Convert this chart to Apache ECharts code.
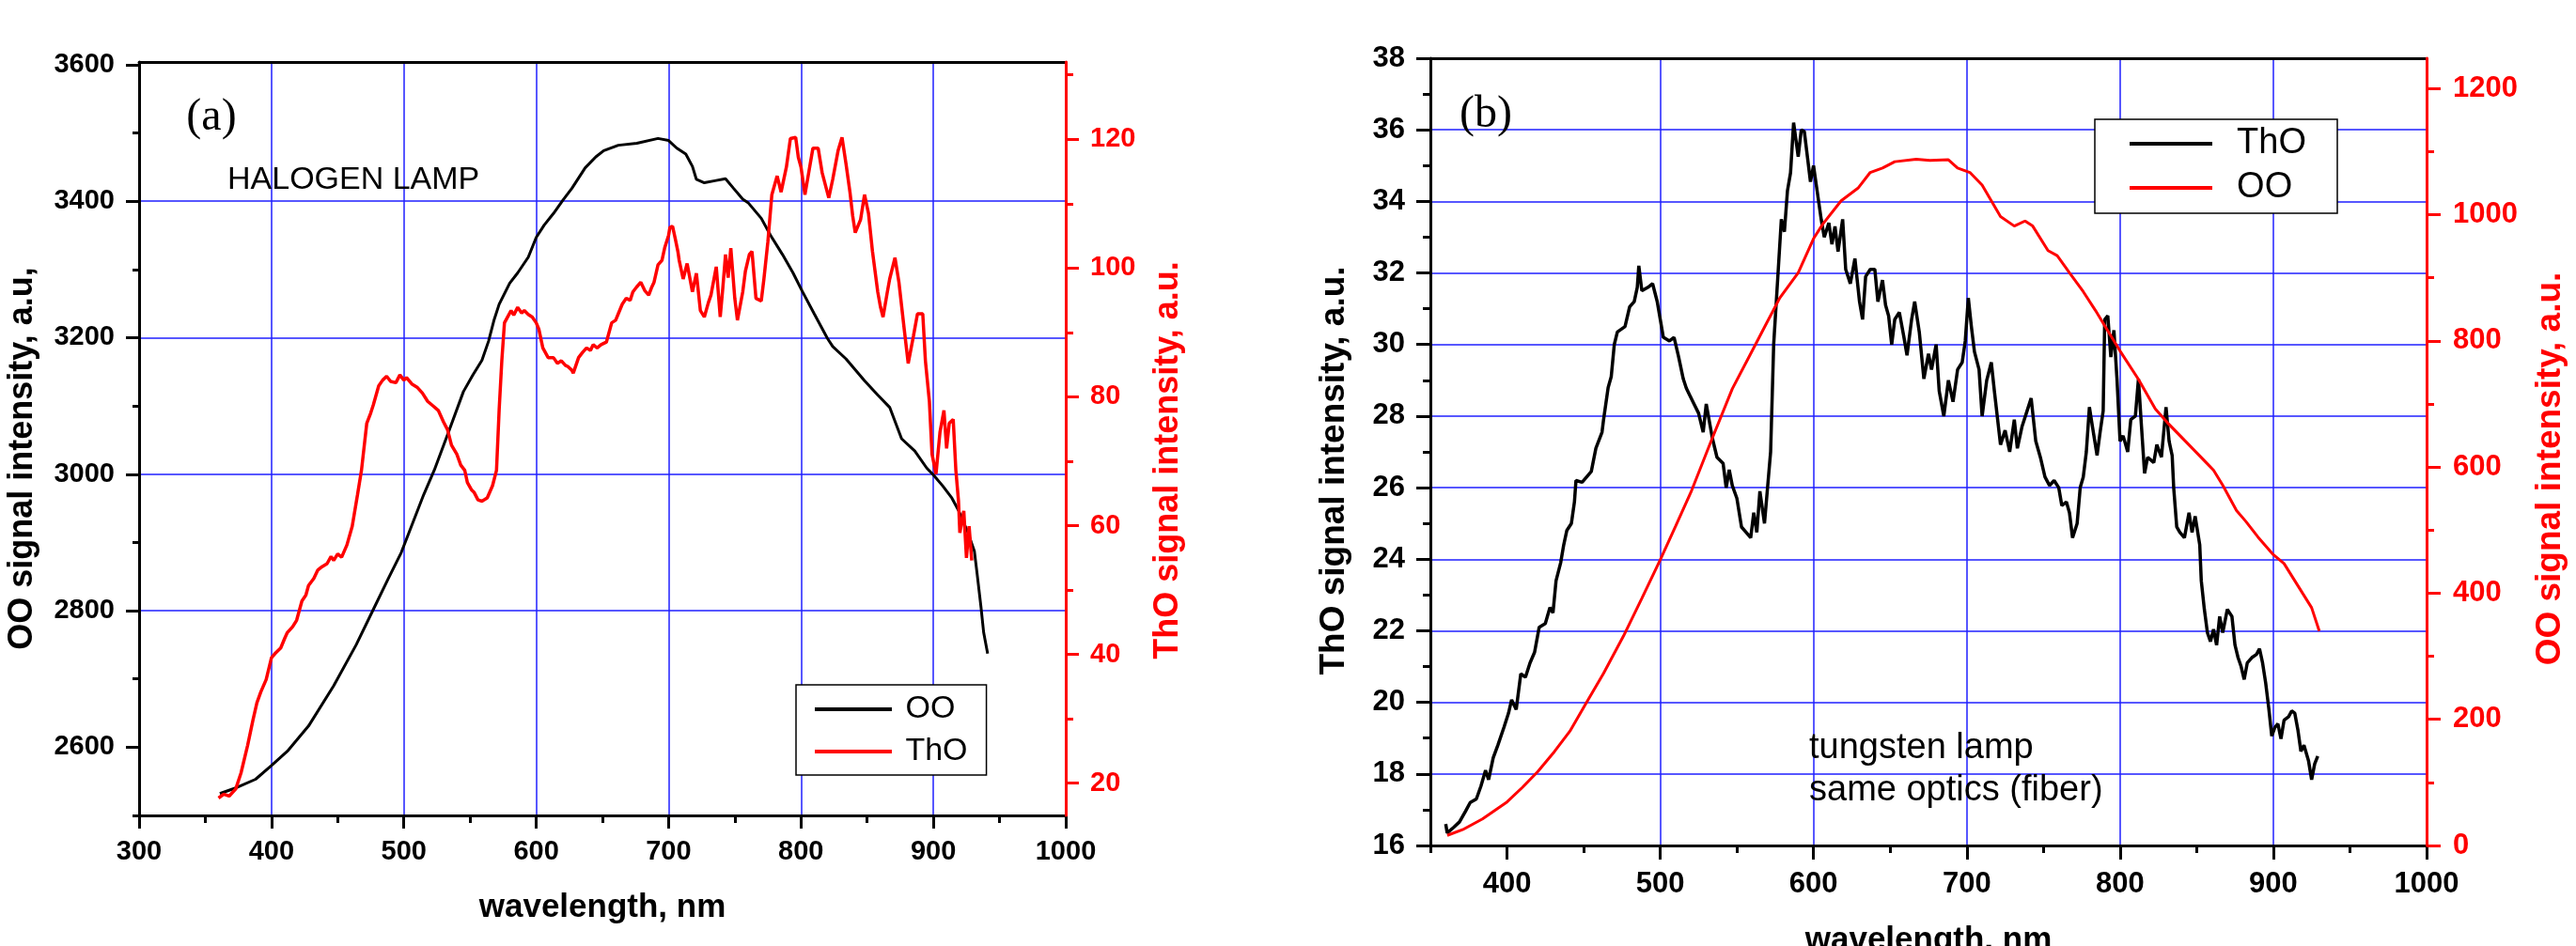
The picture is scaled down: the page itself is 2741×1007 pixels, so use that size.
<!DOCTYPE html>
<html>
<head>
<meta charset="utf-8">
<title>OO / ThO signal vs wavelength</title>
<script src="https://cdn.jsdelivr.net/npm/echarts@6.0.0/dist/echarts.min.js"></script>
<style>
  html, body { margin: 0; padding: 0; background: #fff; }
  #main { width: 2741px; height: 1007px; }
</style>
</head>
<body>
<div id="main"></div>
<script>
// ---- data: [wavelength nm, signal] ----
// panel (a), halogen lamp
var ooA = [[361,2532],[374,2541],[388,2553],[400,2573],[412,2594],[428,2631],[447,2690],[464,2750],[476,2798],[488,2846],
  [498,2885],[504,2915],[515,2970],[523,3006],[534,3063],[545,3121],[552,3145],[559,3167],[564,3195],[568,3225],
  [572,3249],[580,3280],[586,3295],[594,3318],[600,3347],[606,3365],[613,3382],[620,3401],[627,3419],[637,3449],
  [645,3465],[651,3474],[662,3482],[676,3485],[692,3492],[700,3489],[706,3478],[713,3469],[718,3451],[721,3432],
  [727,3427],[735,3430],[743,3433],[749,3419],[756,3403],[760,3398],[770,3375],[777,3350],[786,3322],[794,3295],
  [801,3268],[810,3235],[820,3199],[824,3187],[834,3169],[848,3137],[858,3116],[867,3098],[876,3052],[886,3034],
  [895,3009],[900,2999],[907,2983],[914,2965],[919,2947],[926,2915],[931,2887],[933,2855],[936,2805],[938,2768],[941,2737]];

var thoA = [[360,17.7],[364,18.3],[368,18.0],[373,19.1],[377,21.6],[382,25.9],[386,29.8],[389,32.5],[392,34.2],[396,36.1],
  [400,39.5],[403,40.2],[407,41.0],[410,42.5],[412,43.4],[416,44.3],[419,45.3],[423,48.3],[426,49.2],[428,50.7],
  [432,51.8],[435,53.1],[438,53.6],[442,54.1],[445,55.2],[447,54.6],[450,55.6],[453,55.1],[457,57.0],[461,59.9],
  [465,64.8],[468,68.6],[472,75.9],[475,77.5],[477,78.8],[481,81.7],[484,82.6],[487,83.2],[490,82.4],[494,82.2],
  [497,83.4],[500,82.6],[502,83.0],[506,82.0],[510,81.5],[514,80.6],[518,79.3],[522,78.6],[526,77.9],[530,76.1],
  [533,74.9],[536,72.5],[540,71.1],[543,69.4],[546,68.6],[548,66.7],[551,65.6],[553,65.2],[556,64.0],[559,63.8],
  [563,64.3],[567,66.2],[570,68.6],[572,78.0],[574,85.6],[576,91.5],[581,93.4],[583,92.7],[586,93.9],[589,93.0],
  [591,93.4],[594,92.8],[597,92.4],[600,91.5],[602,90.5],[605,87.6],[609,86.1],[613,86.1],[616,85.2],[619,85.6],
  [622,84.9],[624,84.7],[627,84.1],[628,83.7],[632,86.1],[635,86.9],[638,87.6],[641,87.2],[643,88.1],[646,87.6],
  [649,88.1],[653,88.5],[657,91.5],[660,91.9],[662,92.9],[665,94.4],[668,95.3],[671,95.0],[673,96.3],[676,97.1],
  [679,97.8],[682,96.5],[685,95.8],[687,96.9],[689,97.8],[692,100.5],[695,101.2],[697,103.1],[700,105.1],[701,106.3],
  [703,106.5],[705,104.6],[707,102.6],[708,101.2],[711,98.3],[714,100.7],[718,96.3],[721,99.2],[724,93.4],[727,92.4],
  [730,94.6],[732,95.8],[736,100.2],[739,92.4],[741,97.0],[743,102.1],[745,98.5],[747,103.1],[750,95.3],[752,91.9],
  [756,96.3],[758,99.5],[761,102.1],[763,102.6],[766,95.3],[770,94.9],[772,98.3],[775,104.1],[778,111.4],[782,114.3],
  [785,111.8],[789,115.7],[792,120.1],[796,120.3],[798,117.2],[800,115.7],[803,111.4],[805,113.8],[809,118.6],[813,118.6],
  [816,114.8],[821,110.9],[824,113.8],[828,118.2],[831,120.3],[834,116.2],[837,111.8],[839,108.2],[841,105.5],[845,107.5],
  [848,111.4],[851,108.5],[854,102.6],[858,96.3],[860,94.0],[862,92.4],[865,96.0],[867,98.3],[871,101.6],[874,97.8],
  [878,90.5],[881,85.2],[885,89.5],[888,92.9],[892,92.9],[894,85.6],[897,79.3],[899,71.1],[902,68.0],[905,74.5],
  [908,77.9],[910,72.0],[912,75.9],[915,76.5],[917,68.6],[919,63.8],[920,58.9],[923,62.3],[925,55.0],[927,59.9],[929,54.6]];

// panel (b), tungsten lamp
var thoB = [[360,16.6],[361,16.35],[365,16.5],[369,16.66],[373,16.96],[376,17.2],[380,17.3],[383,17.66],[386,18.1],[388,17.84],
  [391,18.45],[394,18.8],[398,19.3],[401,19.7],[403,20.07],[406,19.8],[409,20.8],[412,20.7],[415,21.1],[418,21.4],
  [421,22.1],[425,22.2],[428,22.65],[430,22.5],[432,23.4],[435,23.9],[437,24.4],[439,24.8],[442,25.0],[444,25.6],
  [445,26.2],[449,26.15],[455,26.45],[458,27.1],[462,27.55],[463,27.9],[466,28.8],[468,29.1],[470,30.0],[472,30.35],
  [477,30.5],[480,31.05],[483,31.2],[485,31.6],[486,32.2],[488,31.5],[492,31.6],[495,31.7],[498,31.2],[500,30.7],
  [502,30.2],[506,30.1],[509,30.2],[512,29.65],[515,29.04],[517,28.78],[519,28.6],[522,28.34],[525,28.08],[528,27.55],
  [530,28.34],[534,27.38],[537,26.85],[541,26.68],[543,26.0],[545,26.5],[547,26.06],[550,25.7],[553,24.9],[556,24.75],
  [559,24.6],[561,25.3],[563,24.75],[565,25.9],[568,25.0],[570,26.0],[572,27.0],[574,30.0],[577,32.1],[579,33.5],
  [581,33.15],[583,34.3],[585,34.8],[587,36.2],[590,35.25],[592,36.0],[594,35.95],[596,35.25],[598,34.55],[600,35.0],
  [602,34.4],[605,33.5],[607,33.0],[610,33.4],[612,32.8],[614,33.3],[616,32.6],[619,33.5],[621,32.1],[624,31.7],
  [627,32.4],[630,31.2],[632,30.7],[634,31.9],[637,32.1],[640,32.1],[642,31.2],[645,31.8],[647,31.1],[649,30.8],
  [651,30.0],[653,30.7],[656,30.9],[659,30.2],[661,29.7],[664,30.7],[666,31.2],[669,30.35],[672,29.04],[675,29.74],
  [677,29.3],[680,30.0],[682,28.7],[685,28.0],[688,29.0],[691,28.4],[694,29.3],[697,29.5],[699,30.1],[701,31.3],
  [703,30.5],[705,29.8],[708,29.3],[710,28.0],[713,29.0],[716,29.5],[718,28.7],[722,27.2],[725,27.6],[728,27.0],
  [731,27.9],[733,27.1],[736,27.7],[739,28.1],[742,28.5],[745,27.3],[748,26.85],[751,26.3],[754,26.06],[757,26.2],
  [760,26.0],[762,25.5],[765,25.6],[767,25.3],[769,24.6],[772,25.0],[774,26.0],[776,26.3],[778,27.0],[780,28.25],
  [782,27.7],[785,26.9],[787,27.55],[789,28.15],[790,30.7],[792,30.8],[794,29.65],[796,30.4],[798,29.04],[800,27.3],
  [802,27.45],[805,27.0],[807,27.9],[810,28.0],[812,29.04],[814,27.7],[816,26.4],[818,26.85],[822,26.7],[824,27.2],
  [827,26.85],[830,28.25],[832,27.3],[834,26.9],[835,26.0],[837,24.9],[839,24.75],[842,24.6],[845,25.3],[847,24.75],
  [849,25.2],[852,24.4],[853,23.4],[855,22.6],[857,21.95],[859,21.7],[861,22.04],[863,21.6],[865,22.4],[867,21.95],
  [870,22.6],[873,22.4],[875,21.6],[877,21.25],[879,21.0],[881,20.64],[883,21.1],[886,21.25],[889,21.34],[891,21.5],
  [893,21.1],[895,20.55],[897,19.85],[899,19.06],[901,19.3],[903,19.4],[905,18.98],[907,19.5],[910,19.6],[912,19.76],
  [914,19.7],[916,19.24],[918,18.63],[920,18.8],[923,18.36],[925,17.84],[927,18.28],[929,18.5]];

var ooB = [[361,16],[371,25],[384,42],[400,69],[410,92],[420,117],[431,149],[441,181],[451,223],[463,273],
  [476,332],[488,392],[500,453],[510,506],[520,560],[533,640],[547,724],[561,789],[570,831],[578,868],
  [590,908],[600,962],[606,985],[618,1022],[629,1042],[637,1067],[645,1074],[653,1084],[667,1088],[676,1086],
  [688,1087],[694,1074],[702,1067],[710,1047],[716,1022],[722,997],[731,982],[738,990],[743,982],[753,943],
  [759,935],[767,908],[776,878],[784,848],[790,824],[800,784],[812,739],[823,692],[831,670],[841,645],
  [855,610],[861,595],[867,571],[876,531],[882,514],[890,489],[900,461],[907,447],[916,412],[925,377],[930,340]];

// tick label positions
var ooTicksA = [2600, 2800, 3000, 3200, 3400, 3600];
var ooMinorA = [2500, 2700, 2900, 3100, 3300, 3500];
var thoTicksA = [20, 40, 60, 80, 100, 120];
var thoMinorA = [30, 50, 70, 90, 110, 130];
var xTicksB = [400, 500, 600, 700, 800, 900, 1000];
var xMinorB = [350, 450, 550, 650, 750, 850, 950];
var ooTicksB = [0, 200, 400, 600, 800, 1000, 1200];
var ooMinorB = [100, 300, 500, 700, 900, 1100];

var FONT = '"Liberation Sans", Arial, Helvetica, sans-serif';
var SERIF = '"Liberation Serif", "Times New Roman", serif';
var BLACK = '#000000', RED = '#ff0000', BLUE = '#1f1fff';

function axLine(c) { return {show: true, onZero: false, lineStyle: {color: c, width: 3}}; }
function axTick(c, len, vals) {
  var t = {show: true, inside: false, length: len, lineStyle: {color: c, width: 3}};
  if (vals) t.customValues = vals;
  return t;
}
function axLabel(c, size, margin, vals) {
  var l = {show: true, color: c, fontSize: size, fontWeight: 'bold', fontFamily: FONT, margin: margin,
           showMinLabel: true, showMaxLabel: true,
           formatter: function (v) { return String(v); }};
  if (vals) l.customValues = vals;
  return l;
}
var off = {show: false};
var grid = {show: true, showMinLine: false, showMaxLine: false, lineStyle: {color: BLUE, width: 1.5}};

function text(x, y, str, size, opts) {
  opts = opts || {};
  return {
    type: 'text', x: x, y: y, rotation: opts.rot || 0, z: 10,
    style: {
      text: str, fontSize: size, fontWeight: opts.weight || 'normal', fontFamily: opts.family || FONT,
      fill: opts.color || BLACK,
      align: opts.align || 'center', textAlign: opts.align || 'center',
      verticalAlign: 'middle', textVerticalAlign: 'middle'
    }
  };
}

var chart = echarts.init(document.getElementById('main'));

var option = {
  animation: false,
  backgroundColor: '#ffffff',
  grid: [
    {left: 148, top: 66, width: 986, height: 802, containLabel: false, outerBoundsMode: 'none'},
    {left: 1522, top: 62, width: 1060, height: 838, containLabel: false, outerBoundsMode: 'none'}
  ],
  xAxis: [
    // (a) bottom
    {gridIndex: 0, type: 'value', position: 'bottom', min: 300, max: 1000, interval: 100,
     axisLine: axLine(BLACK), axisTick: axTick(BLACK, 14),
     minorTick: {show: true, splitNumber: 2, length: 8, lineStyle: {color: BLACK, width: 3}},
     axisLabel: axLabel(BLACK, 29, 24), splitLine: grid},
    // (a) top frame
    {gridIndex: 0, type: 'value', position: 'top', min: 300, max: 1000,
     axisLine: axLine(BLACK), axisTick: off, axisLabel: off, splitLine: off},
    // (b) bottom
    {gridIndex: 1, type: 'value', position: 'bottom', min: 350, max: 1000,
     axisLine: axLine(BLACK), axisTick: axTick(BLACK, 15, xTicksB),
     axisLabel: axLabel(BLACK, 31, 26, xTicksB), splitLine: grid},
    // (b) bottom minor ticks
    {gridIndex: 1, type: 'value', position: 'bottom', min: 350, max: 1000,
     axisLine: off, axisTick: axTick(BLACK, 8, xMinorB), axisLabel: off, splitLine: off},
    // (b) top frame
    {gridIndex: 1, type: 'value', position: 'top', min: 350, max: 1000,
     axisLine: axLine(BLACK), axisTick: off, axisLabel: off, splitLine: off}
  ],
  yAxis: [
    // (a) left OO
    {gridIndex: 0, type: 'value', position: 'left', min: 2500, max: 3604,
     axisLine: axLine(BLACK), axisTick: axTick(BLACK, 14, ooTicksA),
     axisLabel: axLabel(BLACK, 29, 26, ooTicksA), splitLine: grid},
    {gridIndex: 0, type: 'value', position: 'left', min: 2500, max: 3604,
     axisLine: off, axisTick: axTick(BLACK, 7, ooMinorA), axisLabel: off, splitLine: off},
    // (a) right ThO
    {gridIndex: 0, type: 'value', position: 'right', min: 15, max: 132, z: 3,
     axisLine: axLine(RED), axisTick: axTick(RED, 14, thoTicksA),
     axisLabel: axLabel(RED, 29, 26, thoTicksA), splitLine: off},
    {gridIndex: 0, type: 'value', position: 'right', min: 15, max: 132,
     axisLine: off, axisTick: axTick(RED, 8, thoMinorA), axisLabel: off, splitLine: off},
    // (b) left ThO
    {gridIndex: 1, type: 'value', position: 'left', min: 16, max: 38, interval: 2,
     axisLine: axLine(BLACK), axisTick: axTick(BLACK, 15),
     minorTick: {show: true, splitNumber: 2, length: 8, lineStyle: {color: BLACK, width: 3}},
     axisLabel: axLabel(BLACK, 31, 27), splitLine: grid},
    // (b) right OO
    {gridIndex: 1, type: 'value', position: 'right', min: 0, max: 1248, z: 3,
     axisLine: axLine(RED), axisTick: axTick(RED, 15, ooTicksB),
     axisLabel: axLabel(RED, 31, 28, ooTicksB), splitLine: off},
    {gridIndex: 1, type: 'value', position: 'right', min: 0, max: 1248,
     axisLine: off, axisTick: axTick(RED, 8, ooMinorB), axisLabel: off, splitLine: off}
  ],
  legend: [
    {left: 847, top: 729, orient: 'vertical', selectedMode: false,
     padding: [9, 20, 8, 18], itemWidth: 82, itemHeight: 34, itemGap: 11,
     backgroundColor: '#fff', borderColor: BLACK, borderWidth: 1.5, borderRadius: 0,
     itemStyle: {opacity: 0}, lineStyle: {width: 4},
     textStyle: {fontSize: 34, fontFamily: FONT, color: BLACK},
     formatter: function (n) { return ' ' + n.trim(); },
     data: ['OO', 'ThO']},
    {left: 2229, top: 127, orient: 'vertical', selectedMode: false,
     padding: [7, 33, 8, 35], itemWidth: 88, itemHeight: 38, itemGap: 9,
     backgroundColor: '#fff', borderColor: BLACK, borderWidth: 1.5, borderRadius: 0,
     itemStyle: {opacity: 0}, lineStyle: {width: 4},
     textStyle: {fontSize: 38, fontFamily: FONT, color: BLACK},
     formatter: function (n) { return '  ' + n.trim(); },
     data: ['ThO ', 'OO ']}
  ],
  series: [
    {name: 'OO', type: 'line', xAxisIndex: 0, yAxisIndex: 0, data: ooA, symbol: 'none', silent: true,
     itemStyle: {color: BLACK}, lineStyle: {color: BLACK, width: 3}},
    {name: 'ThO', type: 'line', xAxisIndex: 0, yAxisIndex: 2, data: thoA, symbol: 'none', silent: true,
     itemStyle: {color: RED}, lineStyle: {color: RED, width: 3.5}},
    {name: 'ThO ', type: 'line', xAxisIndex: 2, yAxisIndex: 4, data: thoB, symbol: 'none', silent: true,
     itemStyle: {color: BLACK}, lineStyle: {color: BLACK, width: 3.5}},
    {name: 'OO ', type: 'line', xAxisIndex: 2, yAxisIndex: 5, data: ooB, symbol: 'none', silent: true,
     itemStyle: {color: RED}, lineStyle: {color: RED, width: 3}}
  ],
  graphic: [
    text(225, 125, '(a)', 48, {family: SERIF}),
    text(242, 192, 'HALOGEN LAMP', 34, {align: 'left'}),
    text(24, 488, 'OO signal intensity, a.u,', 36, {weight: 'bold', rot: Math.PI / 2}),
    text(1243, 490, 'ThO signal intensity, a.u.', 36, {weight: 'bold', rot: Math.PI / 2, color: RED}),
    text(641, 966, 'wavelength, nm', 35, {weight: 'bold'}),
    text(1581, 122, '(b)', 48, {family: SERIF}),
    text(1925, 797, 'tungsten lamp', 38, {align: 'left'}),
    text(1925, 842, 'same optics (fiber)', 38, {align: 'left'}),
    text(1420, 501, 'ThO signal intensity, a.u.', 37, {weight: 'bold', rot: Math.PI / 2}),
    text(2714, 499, 'OO signal intensity, a.u.', 37, {weight: 'bold', rot: Math.PI / 2, color: RED}),
    text(2052, 1001, 'wavelength, nm', 35, {weight: 'bold'})
  ]
};

chart.setOption(option);
</script>
</body>
</html>
